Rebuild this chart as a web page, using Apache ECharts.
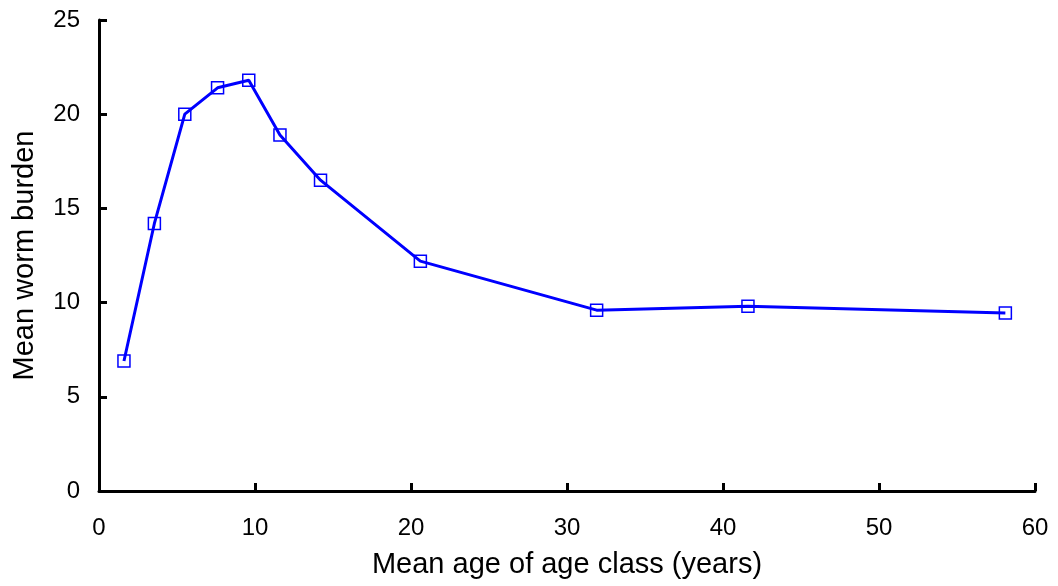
<!DOCTYPE html>
<html><head><meta charset="utf-8">
<script src="https://cdn.jsdelivr.net/npm/echarts@6/dist/echarts.min.js"></script>
<style>html,body{margin:0;padding:0;background:#fff}#c{width:1058px;height:586px}</style>
</head><body><div id="c"></div>
<script>
const ages = [1.6, 3.55, 5.5, 7.6, 9.6, 11.6, 14.2, 20.6, 31.9, 41.6, 58.1];
const burdens = [6.9, 14.2, 20.0, 21.4, 21.8, 18.9, 16.5, 12.2, 9.6, 9.8, 9.45];
const xTitle = 'Mean age of age class (years)';
const yTitle = 'Mean worm burden';

const chart = echarts.init(document.getElementById('c'));
const font = 'Liberation Sans, Arial, sans-serif';
chart.setOption({
  animation: false,
  grid: {left: 99, right: 23, top: 20, bottom: 95},
  xAxis: {
    type: 'value', min: 0, max: 60, interval: 10,
    name: xTitle, nameLocation: 'middle', nameGap: 59,
    nameTextStyle: {fontFamily: font, fontSize: 29, color: '#000'},
    axisLine: {lineStyle: {color: '#000', width: 3}},
    axisTick: {inside: true, length: 8, lineStyle: {color: '#000', width: 3}},
    axisLabel: {fontFamily: font, fontSize: 24, color: '#000', margin: 25},
    splitLine: {show: false}
  },
  yAxis: {
    type: 'value', min: 0, max: 25, interval: 5,
    name: yTitle, nameLocation: 'middle', nameGap: 60,
    nameTextStyle: {fontFamily: font, fontSize: 29, color: '#000'},
    axisLine: {lineStyle: {color: '#000', width: 3}},
    axisTick: {inside: true, length: 8, lineStyle: {color: '#000', width: 3}},
    axisLabel: {fontFamily: font, fontSize: 24, color: '#000', margin: 19},
    splitLine: {show: false}
  },
  series: [{
    type: 'line',
    data: ages.map((a, i) => [a, burdens[i]]),
    symbol: 'rect', symbolSize: 12,
    lineStyle: {color: '#0000ff', width: 3},
    itemStyle: {color: 'rgba(0,0,0,0)', borderColor: '#0000ff', borderWidth: 1.5}
  }]
});
</script></body></html>
